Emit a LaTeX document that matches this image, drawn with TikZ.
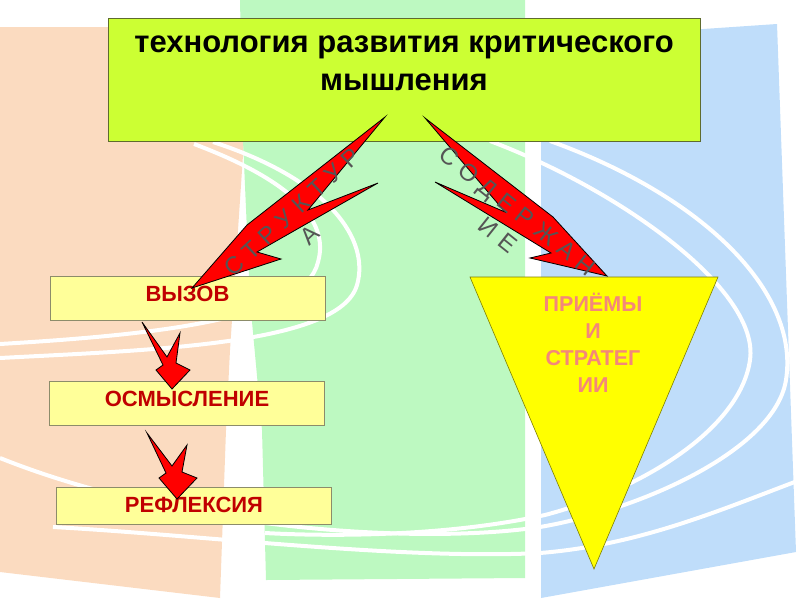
\documentclass[tikz,border=0pt]{standalone}
\usepackage{fontspec}
\setmainfont{Liberation Sans}
\usepackage{tikz}
\usetikzlibrary{positioning, calc}
\definecolor{bgPeach}{HTML}{FBDBC0}
\definecolor{bgGreen}{HTML}{BDF9C1}
\definecolor{bgBlue}{HTML}{BFDDFA}
\definecolor{ttlFill}{HTML}{CCFF33}
\definecolor{ttlBorder}{HTML}{5F6B2E}
\definecolor{stFill}{HTML}{FFFF99}
\definecolor{stBorder}{HTML}{8C8C6A}
\definecolor{stText}{HTML}{C00000}
\definecolor{triFill}{HTML}{FFFF00}
\definecolor{triBorder}{HTML}{7F7F00}
\definecolor{triText}{HTML}{F4877A}
\definecolor{boltRed}{HTML}{FF0000}
\definecolor{artGray}{HTML}{555555}

\begin{document}
\begin{tikzpicture}[x=1pt,y=-1pt,
  stage/.style={draw=stBorder, fill=stFill, minimum width=275pt, minimum height=44pt, inner sep=0pt, text depth=9pt, text=stText, font=\bfseries\fontsize{22}{26}\selectfont},
  bolt/.style={fill=boltRed, draw=black, line width=0.8pt, line join=miter},
  wline/.style={white, line width=4pt},
  art/.style={inner sep=0pt, text=artGray, font=\fontsize{24}{28}\selectfont\addfontfeatures{LetterSpace=32}}]
\useasboundingbox (0,0) rectangle (800,600);
% background panels
\fill[bgPeach] (0,27) -- (243,27) -- (244,140) -- (230,350) -- (226,430) -- (220,598) -- (0,572) -- cycle;
\fill[bgGreen] (240,0) -- (525,0) -- (525,578) -- (266,580) -- (262,430) -- (250,300) -- (243,140) -- cycle;
\fill[bgBlue] (541,40) -- (777,24) -- (796,552) -- (541,598) -- cycle;
% white swirls
\draw[wline] (194,144) .. controls (290,180) and (330,220) .. (318,262) .. controls (305,320) and (150,335) .. (0,344);
\draw[wline] (213,142) .. controls (330,180) and (370,240) .. (357,285) .. controls (340,345) and (150,350) .. (0,358);
\draw[wline] (550,141) .. controls (700,195) and (800,290) .. (786,380) .. controls (775,450) and (640,510) .. (540,527) .. controls (420,545) and (180,530) .. (0,458);
\draw[wline] (490,141) .. controls (620,190) and (760,290) .. (750,360) .. controls (740,430) and (640,490) .. (545,515) .. controls (430,540) and (300,535) .. (265,533);
\draw[wline] (53,527) .. controls (200,535) and (400,560) .. (540,553) .. controls (640,545) and (720,510) .. (800,480);

% boxes
\node[draw=ttlBorder, fill=ttlFill, minimum width=592pt, minimum height=123pt, inner sep=0pt] (title) at (404,79.5) {\parbox[c][108pt][t]{580pt}{\centering\bfseries\fontsize{31}{38}\selectfont\strut технология развития критического\\мышления}};
\node[stage] (vyzov) at (187.5,298) {ВЫЗОВ};
\node[stage] (osmysl) at (187,403) {ОСМЫСЛЕНИЕ};
\node[stage, minimum height=37pt, text depth=2pt] (refl) at (194,506) {РЕФЛЕКСИЯ};
\coordinate (triL) at (470,277);
\coordinate (triR) at (718,277);
\coordinate (triB) at (594,569);
\draw[draw=triBorder, fill=triFill, line width=0.6pt] (triL) -- (triR) -- (triB) -- cycle;
\node[anchor=base, align=center, inner sep=0pt, text=triText, font=\bfseries\fontsize{21.5}{26.7}\selectfont] (priemy) at (593,392) {ПРИЁМЫ\\И\\СТРАТЕГ\\ИИ};

% lightning arrows
\draw[bolt] (385,117) -- (247,225) -- (192,288) -- (281,259) -- (257,252) -- (378,183) -- (308,210) -- cycle;
\draw[bolt] (425,118) -- (553,217) -- (607,276) -- (530,258) -- (551,253) -- (435,182) -- (505,212) -- cycle;
\draw[bolt] (142,322) -- (167,357) -- (180,333) -- (176,363) -- (190,370) -- (172,389) -- (156,370) -- (163,365) -- cycle;
\draw[bolt] (147,433) -- (172,466) -- (187,445) -- (182,472) -- (197,478) -- (177,499) -- (159,478) -- (166,473) -- cycle;

% arrow labels
\node[art, rotate=43] (struk) at (292,212) {СТРУКТУР};
\node[art, rotate=43] (strukA) at (310,235) {А};
\node[art, rotate=-38.5] (soder) at (516,213) {СОДЕРЖАН};
\node[art, rotate=-38.5] (soderIE) at (498,235) {ИЕ};
\end{tikzpicture}
\end{document}
